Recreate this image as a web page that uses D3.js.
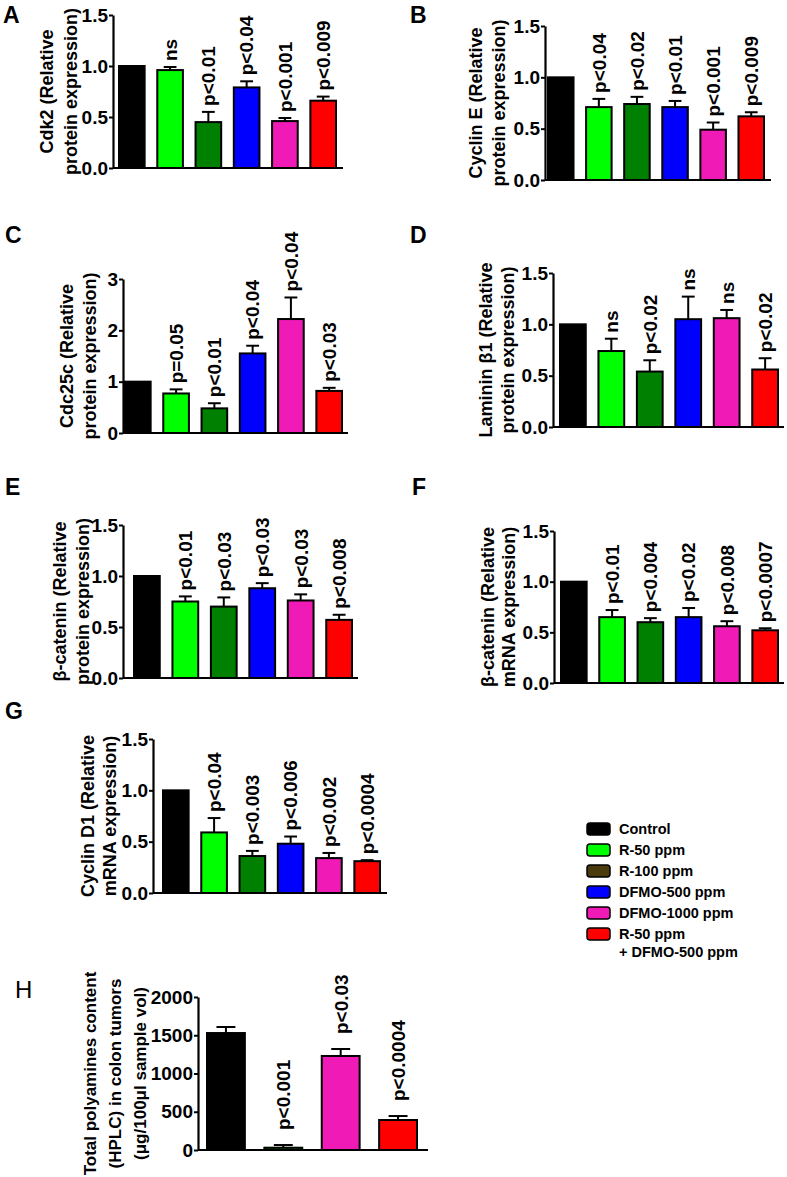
<!DOCTYPE html>
<html>
<head>
<meta charset="utf-8">
<script src="https://cdn.jsdelivr.net/npm/d3@7"></script>
<style>
  html, body { margin: 0; padding: 0; background: #fff; }
  svg { display: block; font-family: "Liberation Sans", Arial, sans-serif; }
</style>
</head>
<body>
<svg id="chart" width="787" height="1177"></svg>
<script>
// ---------- data ----------
const groups = ["Control", "R-50 ppm", "R-100 ppm", "DFMO-500 ppm", "DFMO-1000 ppm", "R-50 ppm + DFMO-500 ppm"];
const groupColors = ["#000000", "#00ff00", "#008000", "#0000ff", "#f01ab6", "#ff0000"];
const legendColors = ["#000000", "#00ff00", "#4a3a0c", "#0000ff", "#f01ab6", "#ff0000"];
const legendLabels = [["Control"], ["R-50 ppm"], ["R-100 ppm"], ["DFMO-500 ppm"], ["DFMO-1000 ppm"], ["R-50 ppm", "+ DFMO-500 ppm"]];

const ticks15 = [0, 0.5, 1.0, 1.5];
const ticksC = [0, 1, 2, 3];
const ticksH = [0, 500, 1000, 1500, 2000];

const cdk2Values = [1.00, 0.96, 0.45, 0.79, 0.46, 0.66];
const cdk2Errors = [0, 0.03, 0.10, 0.06, 0.03, 0.04];
const cdk2Labels = ["", "ns", "p<0.01", "p<0.04", "p<0.001", "p<0.009"];

const cycEValues = [1.00, 0.71, 0.74, 0.71, 0.49, 0.62];
const cycEErrors = [0, 0.08, 0.07, 0.06, 0.07, 0.04];
const cycELabels = ["", "p<0.04", "p<0.02", "p<0.01", "p<0.001", "p<0.009"];

const cdc25Values = [1.00, 0.77, 0.48, 1.55, 2.22, 0.82];
const cdc25Errors = [0, 0.08, 0.10, 0.15, 0.42, 0.06];
const cdc25Labels = ["", "p=0.05", "p<0.01", "p<0.04", "p<0.04", "p<0.03"];

const lamValues = [1.00, 0.74, 0.54, 1.05, 1.06, 0.56];
const lamErrors = [0, 0.12, 0.11, 0.22, 0.08, 0.11];
const lamLabels = ["", "ns", "p<0.02", "ns", "ns", "p<0.02"];

const bcatPValues = [1.00, 0.75, 0.70, 0.88, 0.76, 0.57];
const bcatPErrors = [0, 0.05, 0.09, 0.05, 0.06, 0.05];
const bcatPLabels = ["", "p<0.01", "p<0.03", "p<0.03", "p<0.03", "p<0.008"];

const bcatMValues = [1.00, 0.65, 0.60, 0.65, 0.56, 0.52];
const bcatMErrors = [0, 0.07, 0.04, 0.09, 0.05, 0.02];
const bcatMLabels = ["", "p<0.01", "p<0.004", "p<0.02", "p<0.008", "p<0.0007"];

const cycDValues = [1.00, 0.59, 0.36, 0.48, 0.34, 0.31];
const cycDErrors = [0, 0.14, 0.05, 0.07, 0.05, 0.01];
const cycDLabels = ["", "p<0.04", "p<0.003", "p<0.006", "p<0.002", "p<0.0004"];

const polyGroups = ["Control", "R-100 ppm", "DFMO-1000 ppm", "R-50 ppm + DFMO-500 ppm"];
const polyValues = [1529, 30, 1229, 392];
const polyErrors = [79, 35, 91, 52];
const polyLabels = ["", "p<0.001", "p<0.03", "p<0.0004"];

// ---------- drawing ----------
const svg = d3.select("#chart");
const colorOf = d3.scaleOrdinal().domain(groups).range(groupColors);

function drawPanel(p) {
  const g = svg.append("g");
  const y = d3.scaleLinear().domain([0, p.max]).range([p.yBottom, p.yTop]);
  const x = d3.scaleBand().domain(p.cats).range([p.barX0 + 1, p.barX1 - 1]).paddingInner(p.pad);

  // panel letter
  g.append("text").attr("x", p.letterX).attr("y", p.letterY)
    .attr("font-size", p.letterSize || 23).attr("font-weight", p.letterWeight || "bold")
    .text(p.letter);

  // y axis
  const ax = g.append("g").attr("transform", `translate(${p.axisX},0)`)
    .call(d3.axisLeft(y).tickValues(p.ticks).tickFormat(p.fmt).tickSize(4).tickSizeOuter(0).tickPadding(1));
  ax.select(".domain").attr("stroke", "#000").attr("stroke-width", 2.2);
  ax.selectAll(".tick line").attr("stroke", "#000").attr("stroke-width", 2);
  ax.selectAll(".tick text").attr("font-size", 19).attr("font-weight", "bold").attr("fill", "#000")
    .attr("font-family", "Liberation Sans, Arial, sans-serif");

  // x axis line
  g.append("line").attr("x1", p.axisX).attr("x2", p.axisEnd)
    .attr("y1", y(0)).attr("y2", y(0)).attr("stroke", "#000").attr("stroke-width", 2.2);

  // y title
  const yc = (p.yTop + p.yBottom) / 2;
  p.title.forEach((t, i) => {
    g.append("text")
      .attr("transform", `translate(${p.axisX + p.titleOffsets[i]},${yc}) rotate(-90)`)
      .attr("text-anchor", "middle").attr("font-size", p.titleSize || 18).attr("font-weight", "bold")
      .text(t);
  });

  const rows = p.cats.map((c, i) => ({ c, v: p.values[i], e: p.errors[i], l: p.labels[i] }));

  // error bars
  const eb = g.selectAll(".eb").data(rows.filter(d => d.e > 0)).join("g");
  eb.append("line")
    .attr("x1", d => x(d.c) + x.bandwidth() / 2).attr("x2", d => x(d.c) + x.bandwidth() / 2)
    .attr("y1", d => y(d.v)).attr("y2", d => y(d.v + d.e))
    .attr("stroke", "#000").attr("stroke-width", 2);
  eb.append("line")
    .attr("x1", d => x(d.c) + x.bandwidth() * 0.25).attr("x2", d => x(d.c) + x.bandwidth() * 0.75)
    .attr("y1", d => y(d.v + d.e)).attr("y2", d => y(d.v + d.e))
    .attr("stroke", "#000").attr("stroke-width", 2);

  // bars
  g.selectAll(".bar").data(rows).join("rect")
    .attr("x", d => x(d.c)).attr("width", x.bandwidth())
    .attr("y", d => y(d.v)).attr("height", d => y(0) - y(d.v))
    .attr("fill", d => colorOf(d.c)).attr("stroke", "#000").attr("stroke-width", 2);

  // significance labels
  g.selectAll(".lab").data(rows.filter(d => d.l)).join("text")
    .attr("transform", d => `translate(${x(d.c) + x.bandwidth() / 2},${y(d.v + d.e) - p.gap}) rotate(-90)`)
    .attr("dy", "0.36em").attr("font-size", 19).attr("font-weight", "bold")
    .text(d => d.l);
}

const fmt1 = d3.format(".1f");
const fmt0 = d3.format("d");

drawPanel({ letter: "A", letterX: 3, letterY: 23, axisX: 113, yTop: 15, yBottom: 168, barX0: 118, barX1: 337, axisEnd: 343, pad: 0.33,
  max: 1.5, ticks: ticks15, fmt: fmt1, cats: groups, values: cdk2Values, errors: cdk2Errors, labels: cdk2Labels,
  title: ["Cdk2 (Relative", "protein expression)"], titleOffsets: [-60, -36], gap: 6 });

drawPanel({ letter: "B", letterX: 410, letterY: 23, axisX: 545, yTop: 26, yBottom: 180, barX0: 547, barX1: 765, axisEnd: 771, pad: 0.33,
  max: 1.5, ticks: ticks15, fmt: fmt1, cats: groups, values: cycEValues, errors: cycEErrors, labels: cycELabels,
  title: ["Cyclin E (Relative", "protein expression)"], titleOffsets: [-63, -40], gap: 6 });

drawPanel({ letter: "C", letterX: 5, letterY: 243, axisX: 123, yTop: 279, yBottom: 433, barX0: 124, barX1: 343, axisEnd: 348, pad: 0.33,
  max: 3, ticks: ticksC, fmt: fmt0, cats: groups, values: cdc25Values, errors: cdc25Errors, labels: cdc25Labels,
  title: ["Cdc25c (Relative", "protein expression)"], titleOffsets: [-50, -27], gap: 6 });

drawPanel({ letter: "D", letterX: 410, letterY: 243, axisX: 553, yTop: 273, yBottom: 427, barX0: 559, barX1: 779, axisEnd: 784, pad: 0.33,
  max: 1.5, ticks: ticks15, fmt: fmt1, cats: groups, values: lamValues, errors: lamErrors, labels: lamLabels,
  title: ["Laminin β1 (Relative", "protein expression)"], titleOffsets: [-61, -39], gap: 6 });

drawPanel({ letter: "E", letterX: 5, letterY: 495, axisX: 123, yTop: 525, yBottom: 678, barX0: 133, barX1: 353, axisEnd: 358, pad: 0.33,
  max: 1.5, ticks: ticks15, fmt: fmt1, cats: groups, values: bcatPValues, errors: bcatPErrors, labels: bcatPLabels,
  title: ["β-catenin (Relative", "protein expression)"], titleOffsets: [-57, -34], gap: 6 });

drawPanel({ letter: "F", letterX: 412, letterY: 495, axisX: 554, yTop: 531, yBottom: 683, barX0: 560, barX1: 779, axisEnd: 784, pad: 0.33,
  max: 1.5, ticks: ticks15, fmt: fmt1, cats: groups, values: bcatMValues, errors: bcatMErrors, labels: bcatMLabels,
  title: ["β-catenin (Relative", "mRNA expression)"], titleOffsets: [-60, -39], gap: 6 });

drawPanel({ letter: "G", letterX: 5, letterY: 719, axisX: 153, yTop: 739, yBottom: 893, barX0: 162, barX1: 381, axisEnd: 387, pad: 0.33,
  max: 1.5, ticks: ticks15, fmt: fmt1, cats: groups, values: cycDValues, errors: cycDErrors, labels: cycDLabels,
  title: ["Cyclin D1 (Relative", "mRNA expression)"], titleOffsets: [-59, -37], gap: 6 });

drawPanel({ letter: "H", letterX: 15, letterY: 998, letterSize: 24, letterWeight: "normal", axisX: 198, yTop: 997, yBottom: 1150, barX0: 206, barX1: 418, axisEnd: 428, pad: 0.34,
  max: 2000, ticks: ticksH, fmt: fmt0, cats: polyGroups, values: polyValues, errors: polyErrors, labels: polyLabels,
  title: ["Total polyamines content", "(HPLC) in colon tumors", "(μg/100μl sample vol)"], titleOffsets: [-102, -77, -52], titleSize: 17, gap: 15 });

// legend
const legend = svg.append("g");
const ly = d3.scaleLinear().domain([0, 5]).range([829, 934]);
legendLabels.forEach((lines, i) => {
  legend.append("rect").attr("x", 587).attr("y", ly(i) - 6).attr("width", 23).attr("height", 12)
    .attr("rx", 3).attr("fill", legendColors[i]).attr("stroke", "#000").attr("stroke-width", 1.5);
  lines.forEach((t, j) => {
    legend.append("text").attr("x", 619).attr("y", ly(i) + 5 + j * 18)
      .attr("font-size", 14.5).attr("font-weight", "bold").text(t);
  });
});
</script>
</body>
</html>
